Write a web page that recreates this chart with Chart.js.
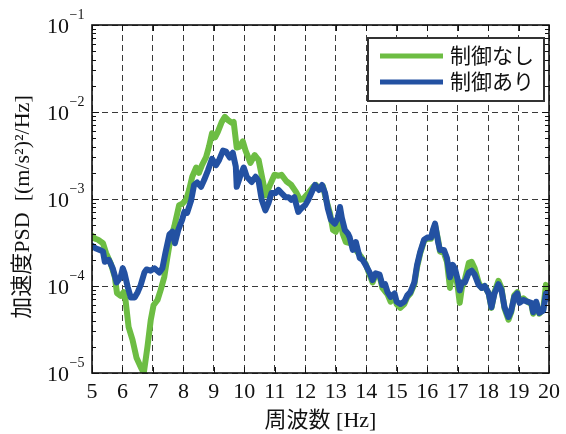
<!DOCTYPE html>
<html>
<head>
<meta charset="utf-8">
<script src="https://cdn.jsdelivr.net/npm/chart.js@4/dist/chart.umd.min.js"></script>
<style>
  html, body { margin: 0; padding: 0; background: #ffffff; }
  #wrap { width: 566px; height: 434px; }
</style>
</head>
<body>
<div id="wrap"><canvas id="psd" width="566" height="434"></canvas></div>
<script>
// Acceleration PSD, without control (green) and with control (blue)
const freqOff = [5.00,5.10,5.20,5.36,5.46,5.62,5.75,5.82,5.94,6.04,6.10,6.20,6.33,6.46,6.60,6.70,6.82,6.93,7.02,7.15,7.25,7.37,7.47,7.57,7.70,7.86,7.96,8.09,8.19,8.29,8.42,8.51,8.61,8.74,8.84,8.94,9.04,9.13,9.26,9.36,9.46,9.59,9.65,9.75,9.85,9.95,10.04,10.20,10.34,10.47,10.60,10.70,10.86,10.99,11.12,11.22,11.38,11.54,11.70,11.83,11.93,12.10,12.26,12.35,12.48,12.58,12.68,12.81,12.91,13.00,13.14,13.23,13.33,13.50,13.66,13.82,13.98,14.11,14.21,14.31,14.44,14.53,14.70,14.80,14.93,15.00,15.12,15.25,15.35,15.45,15.58,15.67,15.77,15.90,16.00,16.13,16.19,16.26,16.36,16.42,16.55,16.65,16.75,16.84,16.91,17.00,17.07,17.14,17.24,17.37,17.46,17.56,17.69,17.79,17.89,18.02,18.11,18.21,18.34,18.44,18.54,18.67,18.76,18.86,18.96,19.03,19.16,19.29,19.42,19.48,19.58,19.68,19.81,19.90,20.00];
const psdOff = [3.8e-4,3.5e-4,3.4e-4,3.1e-4,2.4e-4,1.8e-4,1.26e-4,8.3e-5,7.7e-5,8.5e-5,6.9e-5,3.4e-5,2.4e-5,1.5e-5,1.17e-5,1.0e-5,2.0e-5,4.1e-5,6.0e-5,6.9e-5,8.9e-5,1.26e-4,2.1e-4,3.4e-4,4.8e-4,8.5e-4,8.8e-4,9.8e-4,1.28e-3,1.8e-3,2.3e-3,2.0e-3,2.45e-3,3.0e-3,4.0e-3,5.7e-3,5.1e-3,5.9e-3,7.7e-3,8.8e-3,8.1e-3,7.5e-3,7.7e-3,3.9e-3,4.0e-3,4.6e-3,3.6e-3,2.6e-3,3.2e-3,2.8e-3,1.66e-3,1.1e-3,1.5e-3,1.9e-3,1.85e-3,1.9e-3,1.6e-3,1.45e-3,1.2e-3,9.8e-4,1.0e-3,1.17e-3,1.38e-3,1.45e-3,1.3e-3,1.4e-3,1.0e-3,6.9e-4,4.4e-4,4.2e-4,5.8e-4,4.0e-4,3.2e-4,3.1e-4,2.6e-4,2.2e-4,1.8e-4,1.35e-4,1.1e-4,1.35e-4,1.3e-4,9.5e-5,8.0e-5,6.6e-5,7.5e-5,6.2e-5,5.6e-5,6.2e-5,7.5e-5,8.2e-5,1.05e-4,1.65e-4,2.35e-4,3.3e-4,3.5e-4,3.5e-4,4.2e-4,5.0e-4,3.4e-4,2.5e-4,2.4e-4,1.9e-4,9.5e-5,1.6e-4,1.5e-4,1.0e-4,6.4e-5,9.5e-5,1.2e-4,1.85e-4,1.9e-4,1.6e-4,1.1e-4,9.5e-5,1.0e-4,8.2e-5,5.6e-5,8.5e-5,1.15e-4,9.5e-5,5.5e-5,4.1e-5,5.0e-5,7.8e-5,8.5e-5,6.6e-5,7.2e-5,6.6e-5,6.2e-5,4.8e-5,6.4e-5,4.8e-5,5.4e-5,1.03e-4,8.0e-5];

const freqOn = [5.00,5.13,5.25,5.36,5.42,5.55,5.68,5.81,5.94,6.01,6.07,6.17,6.27,6.40,6.50,6.60,6.72,6.79,6.92,7.05,7.21,7.31,7.41,7.54,7.64,7.72,7.83,7.96,8.03,8.12,8.25,8.35,8.45,8.58,8.68,8.81,8.94,9.07,9.17,9.30,9.40,9.52,9.62,9.72,9.75,9.88,9.98,10.08,10.24,10.37,10.47,10.57,10.69,10.79,10.89,11.02,11.12,11.22,11.35,11.45,11.54,11.64,11.77,11.87,12.00,12.10,12.20,12.32,12.45,12.55,12.65,12.74,12.84,12.97,13.07,13.14,13.20,13.30,13.40,13.46,13.56,13.66,13.79,13.88,13.98,14.11,14.21,14.31,14.44,14.53,14.62,14.70,14.80,14.93,15.00,15.12,15.25,15.35,15.45,15.58,15.67,15.77,15.90,16.00,16.13,16.19,16.26,16.36,16.42,16.55,16.65,16.75,16.84,16.91,17.00,17.07,17.14,17.24,17.37,17.46,17.56,17.69,17.79,17.89,18.02,18.11,18.21,18.34,18.44,18.54,18.67,18.76,18.86,18.96,19.03,19.16,19.29,19.42,19.48,19.58,19.68,19.81,19.90,20.00];
const psdOn = [2.9e-4,2.7e-4,2.6e-4,2.5e-4,1.9e-4,2.0e-4,1.6e-4,1.1e-4,1.26e-4,1.6e-4,1.4e-4,9.8e-5,7.4e-5,7.4e-5,8.5e-5,1.03e-4,1.43e-4,1.55e-4,1.5e-4,1.6e-4,1.43e-4,1.6e-4,2.4e-4,3.9e-4,4.2e-4,3.1e-4,4.4e-4,5.8e-4,7.1e-4,6.9e-4,9.5e-4,1.45e-3,1.55e-3,1.38e-3,1.65e-3,2.15e-3,2.9e-3,2.45e-3,2.8e-3,3.6e-3,3.5e-3,3.0e-3,3.4e-3,2.35e-3,1.38e-3,1.9e-3,2.3e-3,1.8e-3,1.57e-3,1.8e-3,1.6e-3,9.8e-4,7.4e-4,8.9e-4,1.17e-3,1.17e-3,1.27e-3,1.17e-3,1.05e-3,1.05e-3,9.8e-4,1.05e-3,7.1e-4,7.8e-4,8.5e-4,9.8e-4,1.17e-3,1.45e-3,1.27e-3,1.45e-3,1.17e-3,7.8e-4,5.8e-4,5.2e-4,6.1e-4,8.1e-4,6.1e-4,4.4e-4,4.0e-4,3.6e-4,2.6e-4,3.2e-4,2.1e-4,2.0e-4,1.75e-4,1.43e-4,1.17e-4,1.4e-4,1.35e-4,1.03e-4,1.05e-4,8.5e-5,7.5e-5,8.2e-5,6.6e-5,6.2e-5,6.6e-5,7.8e-5,8.5e-5,1.1e-4,1.75e-4,2.45e-4,3.4e-4,3.6e-4,3.6e-4,4.4e-4,5.2e-4,3.2e-4,2.6e-4,2.6e-4,2.1e-4,1.26e-4,1.75e-4,1.6e-4,1.2e-4,8.9e-5,1.1e-4,1.1e-4,1.43e-4,1.5e-4,1.35e-4,1.03e-4,9.5e-5,1.0e-4,8.2e-5,5.7e-5,8.2e-5,1.05e-4,9.0e-5,5.7e-5,4.4e-5,5.2e-5,7.5e-5,8.2e-5,6.4e-5,6.9e-5,6.6e-5,6.4e-5,5.0e-5,6.6e-5,4.9e-5,5.2e-5,8.2e-5,7.2e-5];

const seriesLabels = ['制御なし', '制御あり'];
const xTicks = [5,6,7,8,9,10,11,12,13,14,15,16,17,18,19,20];
const yExponents = [-1,-2,-3,-4,-5];
const xTitle = '周波数 [Hz]';
const yTitle = '加速度PSD  [(m/s²)²/Hz]';

const GREEN = '#6dbd43';
const BLUE = '#2351a2';
const SERIF = "'Liberation Serif', 'Noto Sans CJK JP', serif";

function pairs(xs, ys) { return xs.map((x, i) => ({ x: x, y: ys[i] })); }

// frame, inward ticks, exponent tick labels, y title and the boxed legend
const decorations = {
  id: 'decorations',
  afterDatasetsDraw(chart) {
    const { ctx, chartArea: a, scales } = chart;
    const ys = scales.y, xs = scales.x;
    ctx.save();
    ctx.strokeStyle = '#111';
    ctx.lineWidth = 1;
    // y minor/major tick marks on both sides
    for (let e = -5; e <= -1; e++) {
      for (let k = 1; k <= 9; k++) {
        const v = k * Math.pow(10, e);
        if (v > 0.1 + 1e-12) break;
        const py = Math.round(ys.getPixelForValue(v)) + 0.5;
        const len = k === 1 ? 7 : 4;
        ctx.beginPath();
        ctx.moveTo(a.left, py); ctx.lineTo(a.left + len, py);
        ctx.moveTo(a.right, py); ctx.lineTo(a.right - len, py);
        ctx.stroke();
      }
    }
    // x tick marks at bottom and top
    xTicks.forEach(t => {
      const px = Math.round(xs.getPixelForValue(t)) + 0.5;
      ctx.beginPath();
      ctx.moveTo(px, a.bottom); ctx.lineTo(px, a.bottom - 6);
      ctx.moveTo(px, a.top); ctx.lineTo(px, a.top + 6);
      ctx.stroke();
    });
    // frame
    ctx.lineWidth = 1.6;
    ctx.strokeStyle = '#111';
    ctx.strokeRect(a.left, a.top, a.right - a.left, a.bottom - a.top);

    // y tick labels 10^n
    ctx.fillStyle = '#111';
    ctx.textBaseline = 'middle';
    yExponents.forEach(e => {
      const py = ys.getPixelForValue(Math.pow(10, e));
      ctx.font = '22px ' + SERIF;
      ctx.textAlign = 'right';
      ctx.fillText('10', 69, py + 2);
      ctx.font = '14px ' + SERIF;
      ctx.textAlign = 'left';
      ctx.fillText('\u2212' + Math.abs(e), 69.5, py - 10);
    });

    // y axis title, rotated
    ctx.save();
    ctx.translate(23, (a.top + a.bottom) / 2 + 8);
    ctx.rotate(-Math.PI / 2);
    ctx.font = '22px ' + SERIF;
    ctx.textAlign = 'center';
    ctx.textBaseline = 'middle';
    ctx.fillStyle = '#111';
    ctx.fillText(yTitle, 0, 0);
    ctx.restore();

    // legend
    const bx = 368, by = 38, bw = 176, bh = 63;
    ctx.fillStyle = '#ffffff';
    ctx.fillRect(bx, by, bw, bh);
    ctx.lineWidth = 2;
    ctx.strokeStyle = '#333';
    ctx.strokeRect(bx, by, bw, bh);
    chart.data.datasets.forEach((ds, i) => {
      const ly = by + 18 + i * 26;
      ctx.strokeStyle = ds.borderColor;
      ctx.lineWidth = 5;
      ctx.lineCap = 'butt';
      ctx.beginPath();
      ctx.moveTo(bx + 12, ly); ctx.lineTo(bx + 75, ly);
      ctx.stroke();
      ctx.fillStyle = '#111';
      ctx.font = '21px ' + SERIF;
      ctx.textAlign = 'left';
      ctx.textBaseline = 'middle';
      ctx.fillText(ds.label, bx + 82, ly + 1);
    });
    ctx.restore();
  }
};

new Chart(document.getElementById('psd'), {
  type: 'line',
  data: {
    datasets: [
      { label: seriesLabels[0], data: pairs(freqOff, psdOff), borderColor: GREEN, order: 2 },
      { label: seriesLabels[1], data: pairs(freqOn, psdOn), borderColor: BLUE, order: 1 }
    ]
  },
  options: {
    responsive: false,
    animation: false,
    devicePixelRatio: 1,
    layout: { padding: { top: 25, right: 13, left: 0, bottom: 0 } },
    elements: {
      line: { borderWidth: 6, tension: 0, borderJoinStyle: 'round', borderCapStyle: 'round', fill: false },
      point: { radius: 0, hoverRadius: 0 }
    },
    plugins: { legend: { display: false }, tooltip: { enabled: false } },
    scales: {
      x: {
        type: 'linear', min: 5, max: 20,
        afterBuildTicks: s => { s.ticks = xTicks.map(v => ({ value: v })); },
        afterFit: s => { s.height = 61; },
        ticks: { color: '#111', font: { family: SERIF, size: 22 }, padding: 6, maxRotation: 0, autoSkip: false },
        grid: { color: '#3a3a3a', lineWidth: 1, drawTicks: false },
        border: { display: false, dash: [6, 4] },
        title: { display: true, text: xTitle, color: '#111', font: { family: SERIF, size: 22 }, padding: { top: 0, bottom: 0 } }
      },
      y: {
        type: 'logarithmic', min: 1e-5, max: 1e-1,
        afterBuildTicks: s => { s.ticks = yExponents.map(e => ({ value: Math.pow(10, e) })); },
        afterFit: s => { s.width = 92; },
        ticks: { display: false },
        grid: { color: '#3a3a3a', lineWidth: 1, drawTicks: false },
        border: { display: false, dash: [6, 4] },
        title: { display: false }
      }
    }
  },
  plugins: [decorations]
});
</script>
</body>
</html>
